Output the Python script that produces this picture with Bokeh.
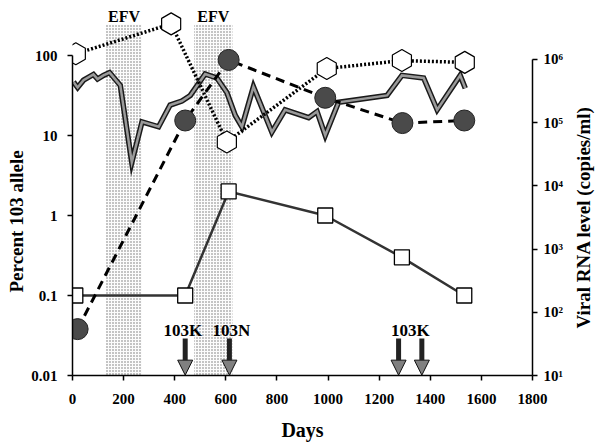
import numpy as np
from bokeh.plotting import figure
from bokeh.layouts import row
from bokeh.models import (LogAxis, Range1d, FixedTicker, Arrow, NormalHead,
                          LogScale, CustomJSTickFormatter, Title)
from bokeh.core.properties import value
from bokeh.embed import file_html
from bokeh.resources import INLINE

FONT = "Liberation Serif"

# ---- data -------------------------------------------------------------
# thick gray line: viral RNA level (right axis, copies/ml)
rna_days = [4, 20, 43, 82, 98, 121, 145, 187, 232, 272, 337, 382, 428, 461,
            519, 565, 604, 637, 663, 708, 780, 832, 924, 957, 989, 1041,
            1231, 1289, 1374, 1427, 1517, 1537]
rna_copies = [4.4e5, 3.6e5, 4.7e5, 5.8e5, 4.9e5, 5.6e5, 6.2e5, 3.9e5, 2.35e4,
              1.03e5, 8.6e4, 1.9e5, 2.2e5, 2.7e5, 5.9e5, 5.1e5, 3.0e5, 1.3e5,
              8.6e4, 3.7e5, 7.1e4, 1.6e5, 1.2e5, 1.5e5, 6.3e4, 2.1e5, 2.7e5,
              5.6e5, 5.1e5, 1.6e5, 5.6e5, 3.5e5]

# hexagons (dotted line), right axis
hex_days = [13, 386, 604, 995, 1289, 1535]
hex_copies = [1.23e6, 3.66e6, 4.96e4, 7.2e5, 9.6e5, 9.0e5]

# filled circles (dashed line), percent 103 allele
circ_days = [20, 441, 611, 989, 1291, 1533]
circ_pct = [0.038, 15.4, 88, 29.6, 14.3, 15.4]

# open squares (solid line), percent 103 allele
sq_days = [11, 441, 611, 989, 1289, 1533]
sq_pct = [0.1, 0.1, 2.0, 1.0, 0.3, 0.1]

# EFV treatment periods
efv_start = [131, 476]
efv_end = [272, 626]
efv_label = ["EFV", "EFV"]

# genotype events (arrows)
event_days = [441, 614, 1276, 1367]
event_label_days = [432, 622, 1322]
event_labels = ["103K", "103N", "103K"]

x_ticks = list(range(0, 1801, 200))
left_ticks = [0.01, 0.1, 1, 10, 100]
right_ticks = [10, 1e2, 1e3, 1e4, 1e5, 1e6]

left_title = "Percent 103 allele"
right_title = "Viral RNA level (copies/ml)"
x_title = "Days"

# ---- main figure ------------------------------------------------------
p = figure(width=570, height=447, output_backend="svg", toolbar_location=None,
           x_range=Range1d(0, 1800), y_range=Range1d(0.01, 10 ** 2.625),
           y_axis_type="log",
           min_border_left=72, min_border_right=38, min_border_top=5,
           min_border_bottom=72)
p.outline_line_color = None
p.grid.visible = False
p.background_fill_color = "white"

p.extra_y_ranges = {"rna": Range1d(10, 10 ** 6.854)}
p.extra_y_scales = {"rna": LogScale()}
raxis = LogAxis(y_range_name="rna")
p.add_layout(raxis, "right")

def style_axis(ax):
    ax.axis_line_width = 1.5
    ax.axis_line_color = "black"
    ax.major_tick_line_width = 1.5
    ax.major_tick_in = 0
    ax.major_tick_out = 5
    ax.minor_tick_line_color = None
    ax.major_label_text_font = FONT
    ax.major_label_text_font_style = "bold"
    ax.major_label_text_font_size = "15px"
    ax.major_label_text_color = "black"
    ax.axis_label_text_font = FONT
    ax.axis_label_text_font_style = "bold"
    ax.axis_label_text_color = "black"

xa = p.xaxis[0]
style_axis(xa)
xa.ticker = FixedTicker(ticks=x_ticks)
xa.axis_label = x_title
xa.axis_label_text_font_size = "20px"
xa.major_label_standoff = 13
xa.axis_label_standoff = 12

ya = p.yaxis[0]
style_axis(ya)
ya.ticker = FixedTicker(ticks=left_ticks)
ya.bounds = (0.01, 100)
ya.formatter = CustomJSTickFormatter(code="return String(Number(tick.toPrecision(1)));")
ya.major_label_standoff = 10

style_axis(raxis)
raxis.ticker = FixedTicker(ticks=right_ticks)
raxis.bounds = (10, 1e6)
raxis.formatter = CustomJSTickFormatter(code="""
const sup = ['\u2070','\u00b9','\u00b2','\u00b3','\u2074','\u2075','\u2076','\u2077'];
const e = Math.round(Math.log10(tick));
return '10' + sup[e];
""")
raxis.major_label_standoff = 6

# left title, placed lower than the frame centre as in the original
p.add_layout(Title(text=left_title, align="left", offset=83,
                   text_font=FONT, text_font_style="bold",
                   text_font_size="19px", text_color="black",
                   standoff=4), "left")

# ---- EFV shading --------------------------------------------------------
p.quad(left=efv_start, right=efv_end, bottom=0.01, top=244,
       fill_color="#fcfcfc", hatch_pattern="dot", hatch_color="#707070",
       hatch_scale=3, hatch_weight=0.9, line_color=None)
p.text(x=[(a + b) / 2 for a, b in zip(efv_start, efv_end)], y=307,
       text=efv_label, text_font=value(FONT), text_font_style="bold",
       text_font_size="16px", text_align="center", text_baseline="middle",
       text_color="black")

# ---- series ---------------------------------------------------------------
p.line(rna_days, rna_copies, y_range_name="rna", line_color="#1a1a1a",
       line_width=5.5, line_join="miter")
p.line(rna_days, rna_copies, y_range_name="rna", line_color="#9a9a9a",
       line_width=2.5, line_join="miter")

p.line(sq_days, sq_pct, line_color="#333333", line_width=2.5)
p.line(circ_days, circ_pct, line_color="black", line_width=3, line_dash="9 6")
p.line(hex_days, hex_copies, y_range_name="rna", line_color="black",
       line_width=3.5, line_dash="2 2")

p.scatter(hex_days, hex_copies, y_range_name="rna", marker="hex", size=22,
          angle=np.pi / 6, fill_color="white", line_color="black",
          line_width=1.2)
p.scatter(circ_days, circ_pct, marker="circle", size=21, fill_color="#4a4a4a",
          line_color="#222222", line_width=1)
p.scatter(sq_days, sq_pct, marker="square", size=15, fill_color="white",
          line_color="black", line_width=1.3)

# ---- arrows ------------------------------------------------------------
for d in event_days:
    p.add_layout(Arrow(end=NormalHead(size=15, fill_color="#808080",
                                      line_color="#111111", line_width=1),
                       x_start=d, y_start=0.029, x_end=d, y_end=0.0101,
                       line_width=5, line_color="#222222"))
p.text(x=event_label_days, y=0.0365, text=event_labels, text_font=value(FONT),
       text_font_style="bold", text_font_size="17px", text_align="center",
       text_baseline="middle", text_color="black")

# ---- right-hand axis title (reads bottom to top) ------------------------
# this strip's frame is aligned with the main plot's frame, so it shares
# the main plot's vertical range
q = figure(width=26, height=447, output_backend="svg", toolbar_location=None,
           x_range=Range1d(0, 26), y_range=p.y_range, y_axis_type="log",
           min_border=0)
q.axis.visible = False
q.grid.visible = False
q.outline_line_color = None
q.text(x=[13], y=[0.95], text=[right_title], angle=np.pi / 2,
       text_font=value(FONT), text_font_style="bold", text_font_size="19px",
       text_align="center", text_baseline="middle", text_color="black")

layout = row(p, q, spacing=0)
open("out.html", "w").write(file_html(layout, INLINE))
